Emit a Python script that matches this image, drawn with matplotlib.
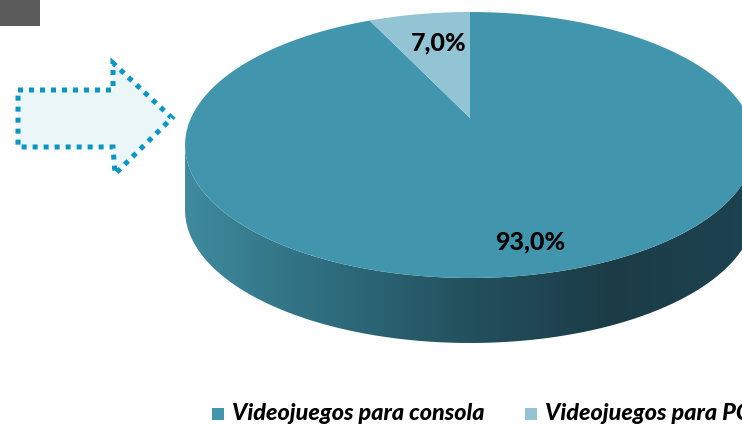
import numpy as np
import matplotlib

matplotlib.use("Agg")

import matplotlib.pyplot as plt
from matplotlib.patches import Polygon, Rectangle
from matplotlib.colors import LinearSegmentedColormap


categories = ["Videojuegos para consola", "Videojuegos para PC"]
shares = [93.0, 7.0]
slice_colors = ["#4196ae", "#93c4d4"]
label_texts = ["93,0%", "7,0%"]

# pie geometry in pixel space (simple perspective projection of a disk)
CX, CY = 470, 118
AX_X, AX_Y = 279, 127.5
PERSP = 0.203
DEPTH = 65
START_ANGLE = 90.0


def project(u, v, dy=0.0):
    w = 1 + PERSP * v
    return CX + AX_X * u / w, CY - AX_Y * v / w + dy


def rim_points(t0, t1, n=240, dy=0.0):
    t = np.radians(np.linspace(t0, t1, n))
    x, y = project(np.cos(t), np.sin(t), dy)
    return np.column_stack([x, y])


def main():
    fig = plt.figure(figsize=(7.42, 4.25), dpi=100)
    ax = fig.add_axes([0, 0, 1, 1])
    ax.set_xlim(0, 742)
    ax.set_ylim(425, 0)
    ax.axis("off")

    # gray tab top-left
    ax.add_patch(Rectangle((0, 0), 40, 26, color="#5b5b5b", lw=0))

    # dotted arrow
    arrow = [(18, 90), (113, 90), (113, 63), (172, 118), (115, 174),
             (113, 147), (18, 147)]
    ax.add_patch(Polygon(arrow, closed=True, facecolor="#eaf6f8",
                         edgecolor="#0a96c4", lw=3.6, linestyle=(0, (1, 1.2))))

    # side wall: front part of the rim between the horizontal extremes
    edge = np.degrees(np.arcsin(PERSP))
    top_edge = rim_points(180 + edge, 360 - edge)
    bottom_edge = rim_points(360 - edge, 180 + edge, dy=DEPTH)
    side = Polygon(np.vstack([top_edge, bottom_edge]), closed=True,
                   facecolor="none", edgecolor="none")
    ax.add_patch(side)
    cmap = LinearSegmentedColormap.from_list(
        "side", ["#3f8a9e", "#2e6d7e", "#23505d", "#1b3c47", "#1d4350"])
    grad = np.linspace(0, 1, 256).reshape(1, -1)
    x_min, x_max = top_edge[:, 0].min(), top_edge[:, 0].max()
    im = ax.imshow(grad, cmap=cmap, aspect="auto",
                   extent=[x_min, x_max, 360, 120],
                   interpolation="bilinear", zorder=2)
    im.set_clip_path(side)

    # top face wedges, clockwise from 12 o'clock
    total = sum(shares)
    angle = START_ANGLE
    mids = []
    for value, color in zip(shares, slice_colors):
        sweep = 360.0 * value / total
        pts = rim_points(angle, angle - sweep)
        ax.add_patch(Polygon(np.vstack([[CX, CY], pts]), closed=True,
                             facecolor=color, edgecolor="none", zorder=3))
        mids.append(angle - sweep / 2)
        angle -= sweep

    # labels
    label_r = [0.83, 0.69]
    label_dx = [0, 6]
    for text, mid, r, dx in zip(label_texts, mids, label_r, label_dx):
        t = np.radians(mid)
        x, y = project(r * np.cos(t), r * np.sin(t))
        ax.text(x + dx, y, text, ha="center", va="center", fontsize=18,
                fontweight="black", family="Lato", color="black", zorder=4)

    # legend (the second entry runs past the right edge, as in the original)
    legend_x = [212, 525]
    for name, color, lx in zip(categories, slice_colors, legend_x):
        ax.add_patch(Rectangle((lx, 408), 12, 12, color=color, lw=0))
        ax.text(lx + 20, 414, name, ha="left", va="center", fontsize=16.8,
                fontweight="black", fontstyle="italic", family="Lato",
                color="black")

    fig.savefig("out.png", dpi=100)
    plt.close(fig)


if __name__ == "__main__":
    main()
